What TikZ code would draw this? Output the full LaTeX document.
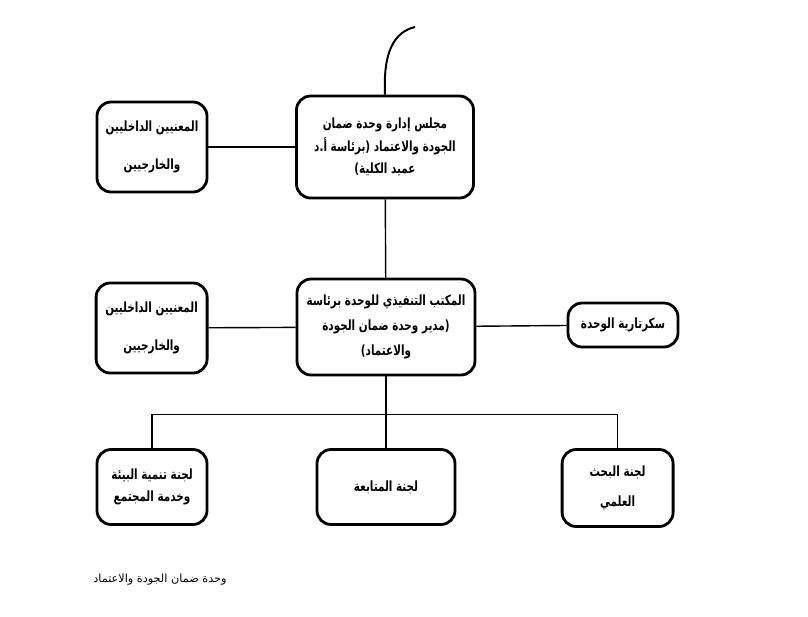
\documentclass[tikz,border=0pt]{standalone}
\usepackage{fontspec}
\newfontfamily\arabicfont[Script=Arabic,FakeStretch=0.74]{DejaVu Sans}
\newfontfamily\arabicplain[Script=Arabic]{DejaVu Sans}
\TeXXeTstate=1
\newcommand{\ar}[1]{\beginR #1\endR}
\begin{document}
\begin{tikzpicture}[box/.style ={draw,line width=2pt,rounded corners=10pt,align=center,
  font=\arabicfont\bfseries\fontsize{10}{16}\selectfont,inner sep=0pt}]

\useasboundingbox (0,0) rectangle (20.2,-15.4);

\node[box,minimum width=4.425cm,minimum height=2.55cm] (A) at (9.625,-3.675) {\ar{مجلس إدارة وحدة ضمان}\\ \ar{الجودة والاعتماد (برئاسة أ.د}\\ \ar{عميد الكلية)}};
\node[box,minimum width=2.75cm,minimum height=2.25cm] (B) at (3.8,-3.675) {\ar{المعنيين الداخليين}\\[11pt] \ar{والخارجيين}};
\node[box,minimum width=4.45cm,minimum height=2.4cm] (C) at (9.65,-8.175) {\ar{المكتب التنفيذي للوحدة برئاسة}\\[2pt] \ar{(مدير وحدة ضمان الجودة}\\[2pt] \ar{والاعتماد)}};
\node[box,minimum width=2.775cm,minimum height=2.25cm] (D) at (3.79,-8.2) {\ar{المعنيين الداخليين}\\[11pt] \ar{والخارجيين}};
\node[box,minimum width=2.75cm,minimum height=1.1cm] (E) at (15.575,-8.125) {\ar{سكرتارية الوحدة}};
\node[box,minimum width=2.75cm,minimum height=1.875cm] (F) at (3.8,-12.175) {\ar{لجنة تنمية البيئة}\\ \ar{وخدمة المجتمع}};
\node[box,minimum width=3.45cm,minimum height=1.875cm] (G) at (9.65,-12.175) {\ar{لجنة المتابعة}};
\node[box,minimum width=2.775cm,minimum height=1.925cm] (H) at (15.44,-12.2) {\ar{لجنة البحث}\\[5pt] \ar{العلمي}};

\draw [line width=1pt] (B) -- (A);
\draw [line width=1pt] (A) -- (C);
\draw [line width=1pt] (D) -- (C);
\draw [line width=1pt] (C) -- (E);
\draw [line width=1.4pt] (A.north) .. controls (9.575,-1.3) and (9.85,-0.8) .. (10.375,-0.675);

%committees
\draw [line width=1pt] (C.south) -- ++(0,-0.95) coordinate (K);
\draw [line width=1pt] (F.north) -- (F.north |- K) -- (H.north |- K) -- (H.north);
\draw [line width=1pt] (G.north) -- (G.north |- K);

\node[font=\arabicplain\fontsize{8}{9}\selectfont] (L) at (4.0,-14.5) {\ar{وحدة ضمان الجودة والاعتماد}};
\end{tikzpicture}
\end{document}
